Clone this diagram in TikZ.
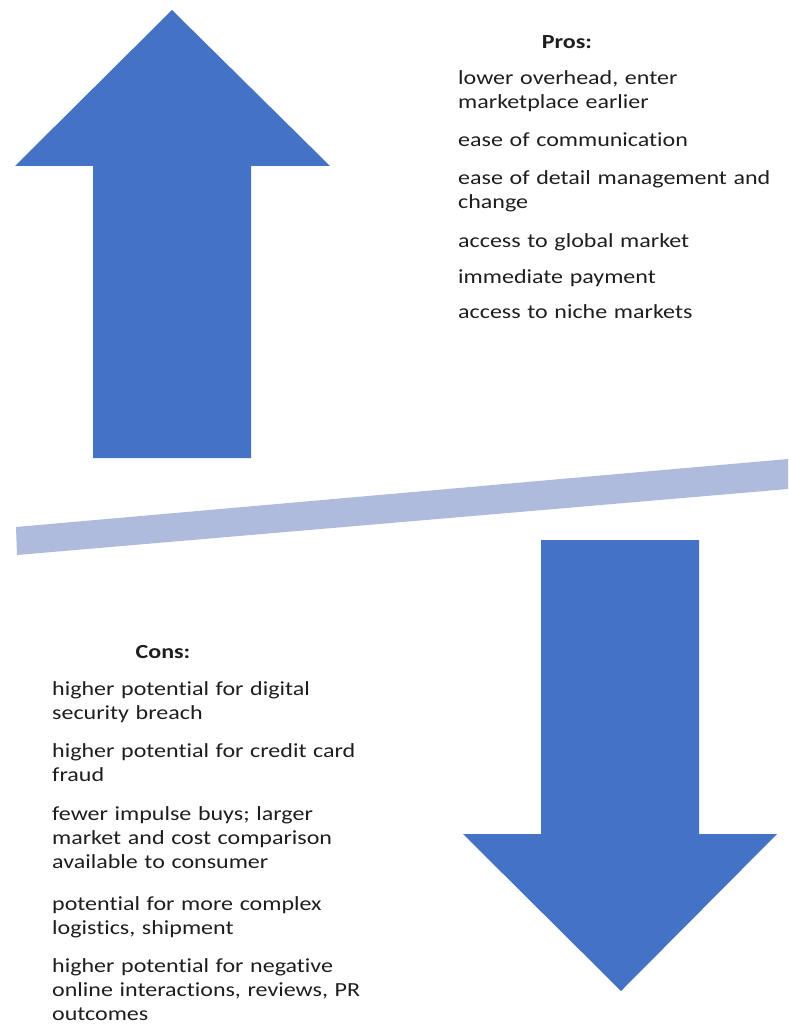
\documentclass[tikz,border=0pt]{standalone}
\usepackage{fontspec}
\setmainfont{Carlito}[FakeStretch=1.2,Ligatures=NoCommon]
\usetikzlibrary{positioning}
\definecolor{arrowblue}{HTML}{4472C4}
\definecolor{barblue}{HTML}{AFBBDD}
\definecolor{listtext}{HTML}{1E1E1E}
\begin{document}
\begin{tikzpicture}[
   x=1pt,y=-1pt,
   font=\fontsize{20}{24}\selectfont,
   text=listtext,
   bigarrow/.style={fill=arrowblue},
   beam/.style={fill=barblue},
   head/.style={anchor=base,inner sep=0pt,font=\fontsize{20}{24}\selectfont\bfseries},
   item/.style={anchor=base west,text width=320pt,align=left,inner sep=0pt}]
\useasboundingbox (0,0) rectangle (788,1027);
% arrows and beam
\fill[bigarrow] (172,10) -- (330,166) -- (251,166) -- (251,458) -- (93,458) -- (93,166) -- (15,166) -- cycle;
\fill[bigarrow] (541,540) -- (699,540) -- (699,834) -- (777,834) -- (621,991) -- (463,834) -- (541,834) -- cycle;
\fill[beam] (16,527) -- (788,459) -- (788,489) -- (17,555) -- cycle;
% pros
\node[head] (pros) at (567,49) {Pros:};
\node[item] (pro1) at (458,85) {lower overhead, enter\\marketplace earlier};
\node[item] (pro2) at (458,147) {ease of communication};
\node[item] (pro3) at (458,185) {ease of detail management and\\change};
\node[item] (pro4) at (458,247) {access to global market};
\node[item] (pro5) at (458,283) {immediate payment};
\node[item] (pro6) at (458,318) {access to niche markets};
% cons
\node[head] (cons) at (163,658) {Cons:};
\node[item] (con1) at (52,695) {higher potential for digital\\security breach};
\node[item] (con2) at (52,757) {higher potential for credit card\\fraud};
\node[item] (con3) at (52,820) {fewer impulse buys; larger\\market and cost comparison\\available to consumer};
\node[item] (con4) at (52,910) {potential for more complex\\logistics, shipment};
\node[item] (con5) at (52,972) {higher potential for negative\\online interactions, reviews, PR\\outcomes};
\end{tikzpicture}
\end{document}
